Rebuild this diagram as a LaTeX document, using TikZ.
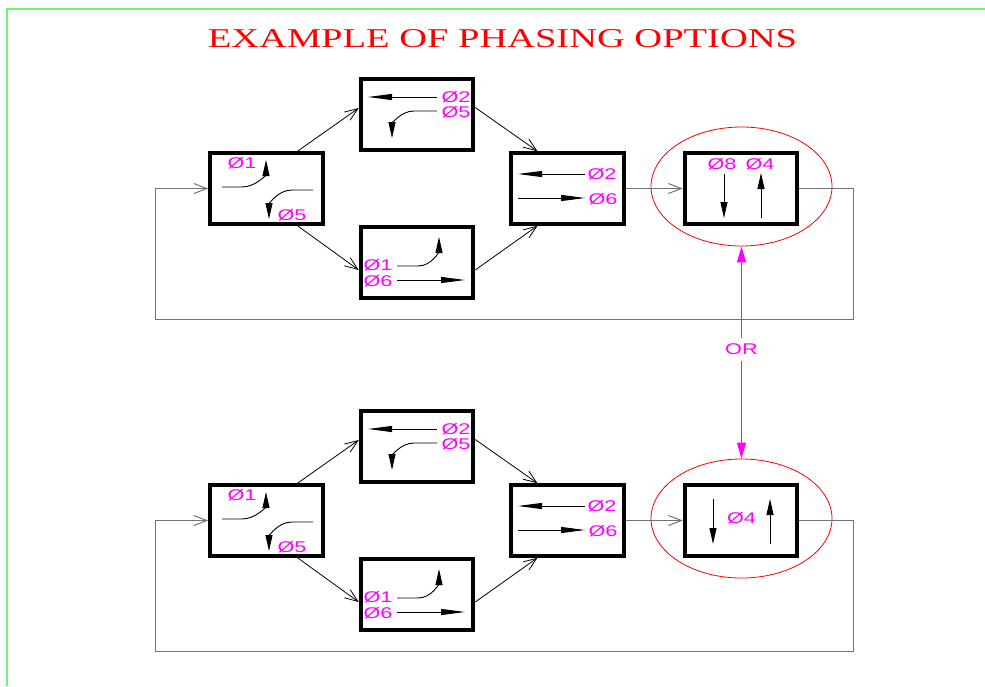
\documentclass[tikz,border=0pt]{standalone}
\usepackage{fontspec}
\usetikzlibrary{arrows.meta,shapes.geometric}
\newfontfamily\phfont[FakeStretch=1.4]{Liberation Sans}
\newfontfamily\titlefont[FakeStretch=1.415]{Liberation Serif}
\definecolor{frame}{RGB}{110,245,110}
\definecolor{pink}{RGB}{255,0,255}
\definecolor{rim}{RGB}{255,0,0}
\begin{document}
\begin{tikzpicture}[x=1pt,y=-1pt,
  phase/.style={draw,line width=4pt,minimum width=112.5pt,minimum height=70.5pt,inner sep=0pt},
  ring/.style={draw=rim,line width=0.8pt,shape=ellipse,minimum width=181pt,minimum height=119pt},
  lab/.style={text=pink,font=\phfont\fontsize{15.5}{15.5}\selectfont,inner sep=0pt},
  link/.style={line width=0.8pt,-{Straight Barb[length=13pt,width=10pt]}},
  back/.style={draw=black!55,line width=1pt},
  turn/.style={line width=0.9pt,-{Triangle[length=16pt,width=7pt]}},
  go/.style={line width=0.9pt,-{Triangle[length=24pt,width=6pt]}}]
\useasboundingbox (0,0) rectangle (985,686);
\draw[frame,line width=1.5pt] (7,686) |- (985,9);
\node[text=rim,font=\titlefont\fontsize{27.2}{30}\selectfont,name=title] at (502.5,39){EXAMPLE OF PHASING OPTIONS};
\foreach \row/\dy in {1/0,2/332}{
\begin{scope}[shift={(0,\dy)}]
\node[phase,name=a\row] at (266.5,188.5){};
\node[phase,name=b\row] at (417,114.5){};
\node[phase,name=c\row] at (417,262.5){};
\node[phase,name=d\row] at (567.5,188.5){};
\node[phase,name=e\row] at (741,188.5){};
\node[ring,name=o\row] at (741.5,186.5){};
\coordinate (p\row) at (853,319);
\coordinate (q\row) at (155,319);
\draw[link] ([xshift=31pt]a\row.north) -- ([yshift=6.5pt]b\row.west);
\draw[link] ([xshift=31pt]a\row.south) -- ([yshift=-7.5pt]c\row.west);
\draw[link] ([yshift=7pt]b\row.east) -- ([xshift=-30pt]d\row.north);
\draw[link] ([yshift=-7.5pt]c\row.east) -- ([xshift=-30pt]d\row.south);
\draw[link,back] (d\row) -- (e\row);
\draw[link,back] (e\row.east) -| (p\row) -- (q\row) |- (a\row.west);
\node[lab,name=a\row1] at (242,163){Ø1};
\node[lab,name=a\row5] at (292,215){Ø5};
\node[lab,name=b\row2] at (456,97){Ø2};
\node[lab,name=b\row5] at (456,112){Ø5};
\node[lab,name=c\row1] at (378,265.5){Ø1};
\node[lab,name=c\row6] at (378,281){Ø6};
\node[lab,name=d\row2] at (602,174.5){Ø2};
\node[lab,name=d\row6] at (603,199){Ø6};
\draw[turn] (222,187) -- (242,187) to[out=0,in=-90] (266,160);
\draw[turn] (313,190) -- (292,190) to[out=180,in=90] (269,219);
\draw[go] (437,97) -- (368,97);
\draw[turn] (437,111) -- (414,111) to[out=180,in=90] (392,138);
\draw[turn] (397,266) -- (418,266) to[out=0,in=-90] (439,237);
\draw[go] (397,280) -- (465,280);
\draw[go] (585,174) -- (518,174);
\draw[go] (518,198) -- (585,198);
\end{scope}
};
\node[lab,name=e18] at (722,164){Ø8};
\node[lab,name=e14] at (760,164){Ø4};
\draw[turn] (724,174) -- (724,218);
\draw[turn] (761,218) -- (761,173);
\node[lab,name=e24] at (741.5,518.5){Ø4};
\draw[turn] (713,499) -- (713,544);
\draw[turn] (770,544) -- (770,499);
\draw[pink,line width=1.5pt,{Triangle[length=16pt,width=9pt]}-{Triangle[length=16pt,width=9pt]}] (o1.south) -- node[lab,pos=0.486,fill=white,inner xsep=2pt,inner ysep=6pt,name=or]{OR} (o2.north);
\end{tikzpicture}
\end{document}
